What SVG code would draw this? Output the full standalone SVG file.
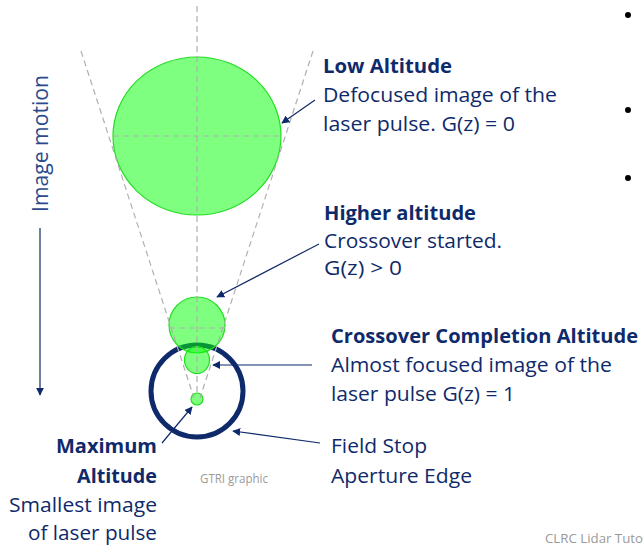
<svg xmlns="http://www.w3.org/2000/svg" width="643" height="548" viewBox="0 0 643 548">
<style>
.t{font-family:"Open Sans","Noto Sans","Liberation Sans",sans-serif;font-size:20px;fill:#0f2a6b}
.b{font-weight:bold}
.dash{stroke:#b0b0b0;stroke-width:1.2;stroke-dasharray:6 4;fill:none}
.spot{fill:#00ff00;fill-opacity:0.5;stroke:#22dd22;stroke-width:1.2}
.arr{stroke:#0f2a6b;stroke-width:1.2;fill:none;marker-end:url(#ah)}
.gray{font-family:"Open Sans","Liberation Sans",sans-serif;font-size:12px;fill:#9a9a9a}
</style>
<defs>
<marker id="ah" viewBox="0 0 10 10" refX="9" refY="5" markerWidth="8" markerHeight="8" markerUnits="userSpaceOnUse" orient="auto">
<path d="M0,0 L10,5 L0,10 z" fill="#0f2a6b"/>
</marker>
</defs>
<rect width="643" height="548" fill="#ffffff"/>

<g id="field-stop">
<circle cx="197" cy="391" r="46" fill="none" stroke="#0f2a6b" stroke-width="5"/>
</g>
<g id="low-spot"><ellipse class="spot" cx="197" cy="136" rx="84" ry="79"/></g>
<g id="higher-spot"><circle class="spot" cx="197" cy="325" r="28"/></g>
<g id="crossover-spot"><ellipse class="spot" cx="197" cy="360" rx="12.5" ry="13.5"/></g>
<g id="max-spot"><circle class="spot" cx="197" cy="399" r="6"/></g>

<g id="guides">
<line class="dash" x1="197" y1="6" x2="197" y2="395"/>
<line class="dash" x1="81" y1="51" x2="194" y2="398"/>
<line class="dash" x1="313" y1="51" x2="200" y2="398"/>
<line class="dash" x1="113" y1="136" x2="281" y2="136"/>
<line class="dash" x1="169" y1="328" x2="225" y2="328"/>
</g>

<g id="connectors">
<line class="arr" x1="315" y1="100" x2="282" y2="123"/>
<line class="arr" x1="319" y1="244" x2="217" y2="297"/>
<line class="arr" x1="312" y1="365" x2="213" y2="365"/>
<line class="arr" x1="320" y1="443" x2="233" y2="431"/>
<line class="arr" x1="162" y1="443" x2="192" y2="407"/>
<line class="arr" x1="40" y1="228" x2="40" y2="395"/>
</g>

<g id="image-motion">
<text class="t" transform="translate(48,212) rotate(-90)" style="fill:#2c4a8c;font-size:21px" textLength="137" lengthAdjust="spacingAndGlyphs">Image motion</text>
</g>

<g id="low-label">
<text class="t b" x="323" y="73" textLength="129" lengthAdjust="spacingAndGlyphs">Low Altitude</text>
<text class="t" x="323" y="102" textLength="234" lengthAdjust="spacingAndGlyphs">Defocused image of the</text>
<text class="t" x="323" y="131" textLength="192" lengthAdjust="spacingAndGlyphs">laser pulse. G(z) = 0</text>
</g>

<g id="higher-label">
<text class="t b" x="324" y="220" textLength="152" lengthAdjust="spacingAndGlyphs">Higher altitude</text>
<text class="t" x="324" y="248" textLength="178" lengthAdjust="spacingAndGlyphs">Crossover started.</text>
<text class="t" x="324" y="275" textLength="78" lengthAdjust="spacingAndGlyphs">G(z) &gt; 0</text>
</g>

<g id="crossover-label">
<text class="t b" x="331" y="343" textLength="307" lengthAdjust="spacingAndGlyphs">Crossover Completion Altitude</text>
<text class="t" x="331" y="372" textLength="281" lengthAdjust="spacingAndGlyphs">Almost focused image of the</text>
<text class="t" x="331" y="401" textLength="184" lengthAdjust="spacingAndGlyphs">laser pulse G(z) = 1</text>
</g>

<g id="fieldstop-label">
<text class="t" x="331" y="453" textLength="96" lengthAdjust="spacingAndGlyphs">Field Stop</text>
<text class="t" x="331" y="483" textLength="141" lengthAdjust="spacingAndGlyphs">Aperture Edge</text>
</g>

<g id="max-label" text-anchor="end">
<text class="t b" x="157" y="453" textLength="101" lengthAdjust="spacingAndGlyphs">Maximum</text>
<text class="t b" x="157" y="483" textLength="80" lengthAdjust="spacingAndGlyphs">Altitude</text>
<text class="t" x="157" y="512" textLength="148" lengthAdjust="spacingAndGlyphs">Smallest image</text>
<text class="t" x="157" y="540" textLength="129" lengthAdjust="spacingAndGlyphs">of laser pulse</text>
</g>

<g id="credits">
<text class="gray" x="200" y="483" textLength="68" lengthAdjust="spacingAndGlyphs">GTRI graphic</text>
<text class="gray" x="545" y="543" style="font-size:13px" textLength="98" lengthAdjust="spacingAndGlyphs">CLRC Lidar Tuto</text>
</g>

<g id="bullets" fill="#000000">
<circle cx="628" cy="15" r="3"/>
<circle cx="628" cy="110" r="3"/>
<circle cx="628" cy="178" r="3"/>
</g>
</svg>
